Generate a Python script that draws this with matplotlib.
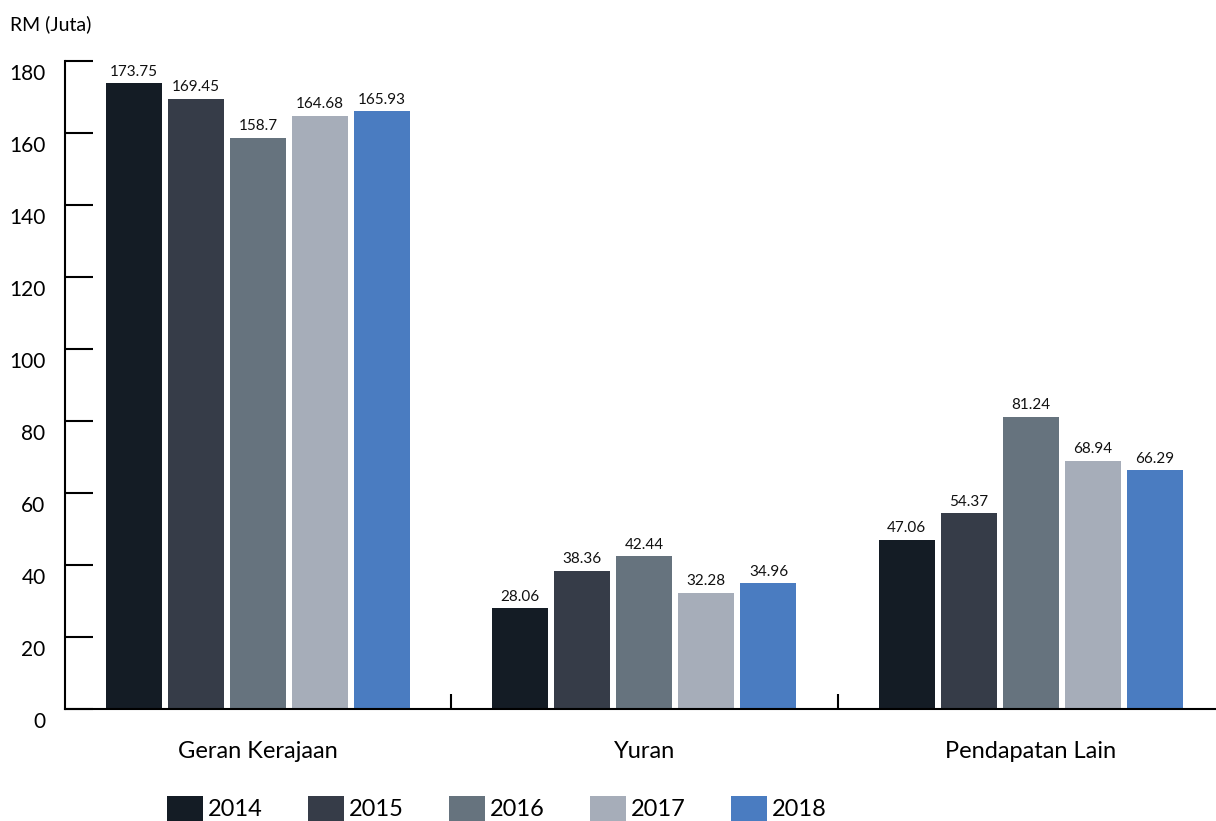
import matplotlib.pyplot as plt
import matplotlib.transforms as mtransforms
import numpy as np

plt.rcParams['font.family'] = ['Lato', 'DejaVu Sans']

# data
categories = ["Geran Kerajaan", "Yuran", "Pendapatan Lain"]
years = ["2014", "2015", "2016", "2017", "2018"]
values = {
    "2014": [173.75, 28.06, 47.06],
    "2015": [169.45, 38.36, 54.37],
    "2016": [158.7, 42.44, 81.24],
    "2017": [164.68, 32.28, 68.94],
    "2018": [165.93, 34.96, 66.29],
}
colors = ["#141c25", "#363c48", "#66737e", "#a6adb9", "#4a7cc1"]
yticks = [0, 20, 40, 60, 80, 100, 120, 140, 160, 180]

fig = plt.figure(figsize=(12.16, 8.21), dpi=100)
ax = fig.add_axes([0.0535, 0.136, 0.9465, 0.79])

x = np.arange(len(categories))
width = 0.145
step = 0.1606

for i, yr in enumerate(years):
    pos = x + (i - 2) * step
    bars = ax.bar(pos, values[yr], width=width, color=colors[i], label=yr, zorder=2)
    for b, v in zip(bars, values[yr]):
        ax.text(b.get_x() + b.get_width() / 2, v + 1.3, f"{v:g}",
                ha="center", va="bottom", fontsize=11, color="#111111")

ax.set_xlim(-0.5, 2.48)
ax.set_ylim(0, 180)

# spines
for s in ["top", "right"]:
    ax.spines[s].set_visible(False)
ax.spines["left"].set_linewidth(1.5)
ax.spines["bottom"].set_linewidth(1.5)

# y ticks
ax.set_yticks(yticks)
ax.tick_params(axis="y", direction="in", length=20, width=1.5, pad=14, labelsize=15)
offset = mtransforms.ScaledTranslation(0, -0.11, fig.dpi_scale_trans)
for lbl in ax.get_yticklabels():
    lbl.set_transform(lbl.get_transform() + offset)

# x ticks: labels at group centers, separators between groups
ax.set_xticks(x)
ax.set_xticklabels(categories)
ax.tick_params(axis="x", which="major", length=0, pad=23, labelsize=17)
ax.set_xticks([0.5, 1.5], minor=True)
ax.tick_params(axis="x", which="minor", direction="in", length=11, width=1.5)

fig.text(0.008, 0.97, "RM (Juta)", fontsize=14, ha="left", va="center")

fig.legend(loc="lower left", bbox_to_anchor=(0.128, -0.014), ncol=5, frameon=False,
           fontsize=17, handlelength=1.5, handleheight=1.25, handletextpad=0.2,
           columnspacing=1.95, borderpad=0)

plt.savefig("out.png", dpi=100)
